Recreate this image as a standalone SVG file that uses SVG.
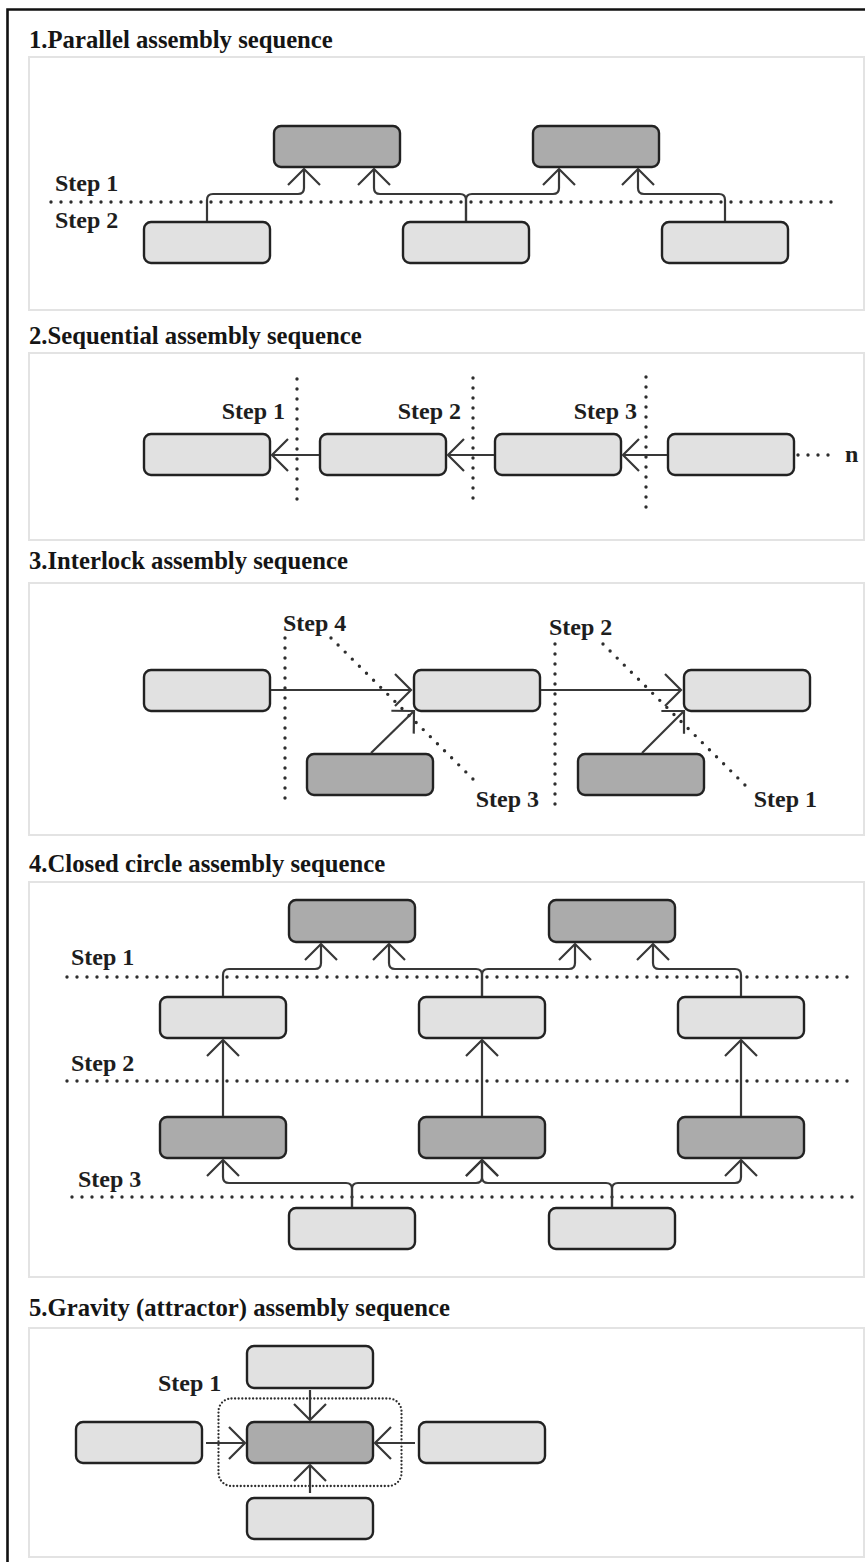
<svg xmlns="http://www.w3.org/2000/svg" width="865" height="1562" viewBox="0 0 865 1562">
  <defs>
    <style>
      .frame { fill: none; stroke: #111; stroke-width: 2.6; }
      .panel { fill: #fff; stroke: #e3e3e3; stroke-width: 2; }
      .title { font-family: "Liberation Serif", "Times New Roman", serif; font-weight: bold; font-size: 24.7px; fill: #151515; }
      .step { font-family: "Liberation Serif", "Times New Roman", serif; font-weight: bold; font-size: 24px; fill: #1e1e1e; }
      .end { text-anchor: end; }
      .light { fill: #e1e1e1; stroke: #222; stroke-width: 2.4; }
      .dark { fill: #ababab; stroke: #222; stroke-width: 2.4; }
      .conn { fill: none; stroke: #383838; stroke-width: 2.2; marker-end: url(#arrow); }
      .dots { fill: none; stroke: #2e2e2e; stroke-width: 3.4; stroke-linecap: round; stroke-dasharray: 0 10; }
      .fine { fill: none; stroke: #2e2e2e; stroke-width: 2.3; stroke-linecap: round; stroke-dasharray: 0 3.6; }
    </style>
    <marker id="arrow" markerUnits="userSpaceOnUse" markerWidth="20" markerHeight="34" refX="0" refY="0" orient="auto" style="overflow:visible">
      <path d="M-16,-16 L0,0 L-16,16" fill="none" stroke="#383838" stroke-width="2.2"/>
    </marker>
  </defs>

  <rect width="865" height="1562" fill="#fff"/>
  <path class="frame" d="M7.5,1562 V9.5 H866"/>

  <!-- ===== 1. Parallel ===== -->
  <text class="title" x="29" y="48">1.Parallel assembly sequence</text>
  <rect class="panel" x="29" y="57" width="835" height="253"/>
  <g id="s1-steps">
    <text class="step" x="55" y="191">Step 1</text>
    <text class="step" x="55" y="228">Step 2</text>
    <line class="dots" x1="51" y1="202" x2="837" y2="202"/>
  </g>
  <g id="s1-d1"><rect class="dark" x="274" y="126" width="126" height="41" rx="7"/></g>
  <g id="s1-d2"><rect class="dark" x="533" y="126" width="126" height="41" rx="7"/></g>
  <g id="s1-a"><rect class="light" x="144" y="222" width="126" height="41" rx="7"/></g>
  <g id="s1-b"><rect class="light" x="403" y="222" width="126" height="41" rx="7"/></g>
  <g id="s1-c"><rect class="light" x="662" y="222" width="126" height="41" rx="7"/></g>
  <g id="s1-connectors">
    <path class="conn" d="M207,221 V200 Q207,194 213,194 H298 Q304,194 304,188 V169"/>
    <path class="conn" d="M466,221 V200 Q466,194 460,194 H380 Q374,194 374,188 V169"/>
    <path class="conn" d="M466,221 V200 Q466,194 472,194 H553 Q559,194 559,188 V169"/>
    <path class="conn" d="M725,221 V200 Q725,194 719,194 H644 Q638,194 638,188 V169"/>
  </g>

  <!-- ===== 2. Sequential ===== -->
  <text class="title" x="29" y="344">2.Sequential assembly sequence</text>
  <rect class="panel" x="29" y="353" width="835" height="187"/>
  <g id="s2-steps">
    <line class="dots" x1="297" y1="379" x2="297" y2="503"/>
    <line class="dots" x1="473" y1="378" x2="473" y2="500"/>
    <line class="dots" x1="646" y1="377" x2="646" y2="509"/>
    <text class="step end" x="285" y="419">Step 1</text>
    <text class="step end" x="461" y="419">Step 2</text>
    <text class="step end" x="637" y="419">Step 3</text>
  </g>
  <g id="s2-n1"><rect class="light" x="144" y="434" width="126" height="41" rx="7"/></g>
  <g id="s2-n2"><rect class="light" x="320" y="434" width="126" height="41" rx="7"/></g>
  <g id="s2-n3"><rect class="light" x="495" y="434" width="126" height="41" rx="7"/></g>
  <g id="s2-n4"><rect class="light" x="668" y="434" width="126" height="41" rx="7"/></g>
  <g id="s2-more">
    <line class="dots" x1="798" y1="455" x2="838" y2="455"/>
    <text class="step" x="845" y="462">n</text>
  </g>
  <g id="s2-connectors">
    <path class="conn" d="M319,455 H272"/>
    <path class="conn" d="M494,455 H448"/>
    <path class="conn" d="M667,455 H623"/>
  </g>

  <!-- ===== 3. Interlock ===== -->
  <text class="title" x="29" y="569">3.Interlock assembly sequence</text>
  <rect class="panel" x="29" y="583" width="835" height="252"/>
  <g id="s3-steps">
    <line class="dots" x1="285" y1="638" x2="285" y2="802"/>
    <line class="dots" x1="331" y1="638" x2="476" y2="782"/>
    <line class="dots" x1="555" y1="644" x2="555" y2="807"/>
    <line class="dots" x1="603" y1="644" x2="748" y2="788"/>
    <text class="step" x="283" y="631">Step 4</text>
    <text class="step end" x="539" y="807">Step 3</text>
    <text class="step" x="549" y="635">Step 2</text>
    <text class="step end" x="817" y="807">Step 1</text>
  </g>
  <g id="s3-l1"><rect class="light" x="144" y="670" width="126" height="41" rx="7"/></g>
  <g id="s3-l2"><rect class="light" x="414" y="670" width="126" height="41" rx="7"/></g>
  <g id="s3-l3"><rect class="light" x="684" y="670" width="126" height="41" rx="7"/></g>
  <g id="s3-d1"><rect class="dark" x="307" y="754" width="126" height="41" rx="7"/></g>
  <g id="s3-d2"><rect class="dark" x="578" y="754" width="126" height="41" rx="7"/></g>
  <g id="s3-connectors">
    <path class="conn" d="M271,690 H411"/>
    <path class="conn" d="M541,690 H681"/>
    <path class="conn" d="M371,753 L414,711"/>
    <path class="conn" d="M642,753 L684,711"/>
  </g>

  <!-- ===== 4. Closed circle ===== -->
  <text class="title" x="29" y="872">4.Closed circle assembly sequence</text>
  <rect class="panel" x="29" y="882" width="835" height="395"/>
  <g id="s4-steps">
    <line class="dots" x1="67" y1="977" x2="852" y2="977"/>
    <line class="dots" x1="67" y1="1081" x2="852" y2="1081"/>
    <line class="dots" x1="72" y1="1197" x2="857" y2="1197"/>
    <text class="step" x="71" y="965">Step 1</text>
    <text class="step" x="71" y="1071">Step 2</text>
    <text class="step" x="78" y="1187">Step 3</text>
  </g>
  <g id="s4-t1"><rect class="dark" x="289" y="900" width="126" height="42" rx="7"/></g>
  <g id="s4-t2"><rect class="dark" x="549" y="900" width="126" height="42" rx="7"/></g>
  <g id="s4-m1"><rect class="light" x="160" y="997" width="126" height="41" rx="7"/></g>
  <g id="s4-m2"><rect class="light" x="419" y="997" width="126" height="41" rx="7"/></g>
  <g id="s4-m3"><rect class="light" x="678" y="997" width="126" height="41" rx="7"/></g>
  <g id="s4-d1"><rect class="dark" x="160" y="1117" width="126" height="41" rx="7"/></g>
  <g id="s4-d2"><rect class="dark" x="419" y="1117" width="126" height="41" rx="7"/></g>
  <g id="s4-d3"><rect class="dark" x="678" y="1117" width="126" height="41" rx="7"/></g>
  <g id="s4-b1"><rect class="light" x="289" y="1208" width="126" height="41" rx="7"/></g>
  <g id="s4-b2"><rect class="light" x="549" y="1208" width="126" height="41" rx="7"/></g>
  <g id="s4-connectors">
    <path class="conn" d="M223,996 V975 Q223,969 229,969 H315 Q321,969 321,963 V944"/>
    <path class="conn" d="M482,996 V975 Q482,969 476,969 H395 Q389,969 389,963 V944"/>
    <path class="conn" d="M482,996 V975 Q482,969 488,969 H569 Q575,969 575,963 V944"/>
    <path class="conn" d="M741,996 V975 Q741,969 735,969 H659 Q653,969 653,963 V944"/>
    <path class="conn" d="M223,1116 V1040"/>
    <path class="conn" d="M482,1116 V1040"/>
    <path class="conn" d="M741,1116 V1040"/>
    <path class="conn" d="M352,1207 V1189 Q352,1183 346,1183 H229 Q223,1183 223,1177 V1160"/>
    <path class="conn" d="M352,1207 V1189 Q352,1183 358,1183 H476 Q482,1183 482,1177 V1160"/>
    <path class="conn" d="M612,1207 V1189 Q612,1183 606,1183 H488 Q482,1183 482,1177 V1160"/>
    <path class="conn" d="M612,1207 V1189 Q612,1183 618,1183 H735 Q741,1183 741,1177 V1160"/>
  </g>

  <!-- ===== 5. Gravity ===== -->
  <text class="title" x="29" y="1316">5.Gravity (attractor) assembly sequence</text>
  <rect class="panel" x="29" y="1328" width="835" height="229"/>
  <g id="s5-step">
    <rect class="fine" x="218.5" y="1398.5" width="183" height="87.5" rx="13"/>
    <text class="step" x="158" y="1391">Step 1</text>
  </g>
  <g id="s5-top"><rect class="light" x="247" y="1346" width="126" height="42" rx="7"/></g>
  <g id="s5-center"><rect class="dark" x="247" y="1422" width="126" height="41" rx="7"/></g>
  <g id="s5-left"><rect class="light" x="76" y="1422" width="126" height="41" rx="7"/></g>
  <g id="s5-right"><rect class="light" x="419" y="1422" width="126" height="41" rx="7"/></g>
  <g id="s5-bottom"><rect class="light" x="247" y="1498" width="126" height="41" rx="7"/></g>
  <g id="s5-connectors">
    <path class="conn" d="M310,1390 V1420"/>
    <path class="conn" d="M206,1443 H245"/>
    <path class="conn" d="M415,1443 H375"/>
    <path class="conn" d="M310,1493 V1465"/>
  </g>
</svg>
